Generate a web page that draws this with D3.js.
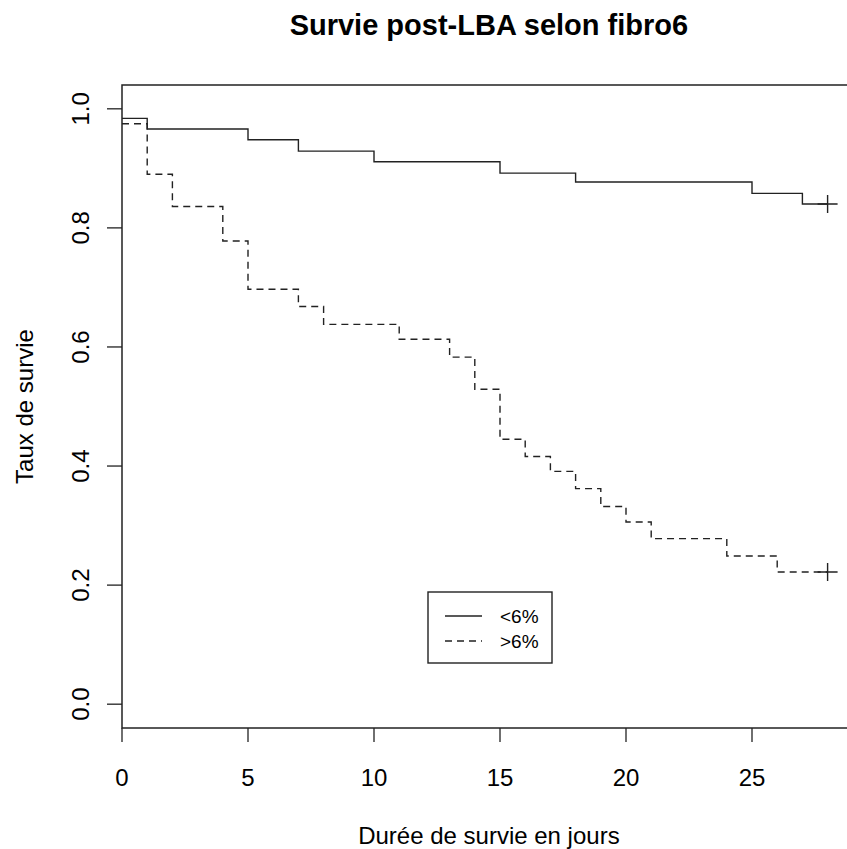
<!DOCTYPE html>
<html>
<head>
<meta charset="utf-8">
<script src="https://cdn.jsdelivr.net/npm/d3@7"></script>
<style>
  body { margin: 0; background: #fff; }
  text { font-family: "Liberation Sans", Arial, sans-serif; fill: #000; }
</style>
</head>
<body>
<div id="chart"></div>
<script>
// Kaplan-Meier steps
const groups = ["<6%", ">6%"];
const timesLow = [0, 1, 5, 7, 10, 15, 18, 25, 27];
const survLow = [0.984, 0.966, 0.948, 0.929, 0.911, 0.892, 0.877, 0.858, 0.840];
const timesHigh = [0, 1, 2, 4, 5, 7, 8, 11, 13, 14, 15, 16, 17, 18, 19, 20, 21, 24, 26];
const survHigh = [0.975, 0.890, 0.836, 0.778, 0.697, 0.668, 0.638, 0.613, 0.583, 0.529,
                  0.445, 0.416, 0.391, 0.362, 0.332, 0.306, 0.278, 0.249, 0.222];
const lastTime = 28; // censored at end of follow-up
const xTicks = [0, 5, 10, 15, 20, 25];
const yTicks = [0, 0.2, 0.4, 0.6, 0.8, 1.0];

const W = 847, H = 849;
const margin = { top: 85, left: 122, bottom: 120 };
const plotRight = 122 + 29.12 * 25.2; // runs past the window edge

const svg = d3.select("#chart").append("svg")
  .attr("width", W).attr("height", H);

const x = d3.scaleLinear().domain([0, 29.12]).range([margin.left, plotRight]);
const y = d3.scaleLinear().domain([-0.04, 1.04]).range([H - margin.bottom - 1, margin.top]);

// box
svg.append("rect")
  .attr("x", x.range()[0]).attr("y", y.range()[1])
  .attr("width", plotRight - margin.left).attr("height", y.range()[0] - y.range()[1])
  .attr("fill", "none").attr("stroke", "#222").attr("stroke-width", 1.5);

// x axis
const xAxis = svg.append("g").attr("transform", "translate(0," + y.range()[0] + ")");
xAxis.selectAll("line").data(xTicks).enter().append("line")
  .attr("x1", d => x(d)).attr("x2", d => x(d))
  .attr("y1", 0).attr("y2", 14)
  .attr("stroke", "#222").attr("stroke-width", 1.3);
xAxis.selectAll("text").data(xTicks).enter().append("text")
  .attr("x", d => x(d)).attr("y", 58)
  .attr("text-anchor", "middle").style("font-size", "24px")
  .text(d => d);

// y axis
const yAxis = svg.append("g").attr("transform", "translate(" + margin.left + ",0)");
yAxis.selectAll("line").data(yTicks).enter().append("line")
  .attr("x1", -15).attr("x2", 0)
  .attr("y1", d => y(d)).attr("y2", d => y(d))
  .attr("stroke", "#222").attr("stroke-width", 1.3);
yAxis.selectAll("text").data(yTicks).enter().append("text")
  .attr("transform", d => "translate(-33," + y(d) + ") rotate(-90)")
  .attr("text-anchor", "middle").style("font-size", "24px")
  .text(d => d3.format(".1f")(d));

// curves
function stepData(times, surv) {
  const pts = times.map((t, i) => ({ t: t, s: surv[i] }));
  pts.push({ t: lastTime, s: surv[surv.length - 1] });
  return pts;
}
const line = d3.line().x(d => x(d.t)).y(d => y(d.s)).curve(d3.curveStepAfter);
const series = [
  { name: groups[0], pts: stepData(timesLow, survLow), dash: null },
  { name: groups[1], pts: stepData(timesHigh, survHigh), dash: "7,5" }
];
svg.selectAll("path.km").data(series).enter().append("path")
  .attr("class", "km")
  .attr("d", d => line(d.pts))
  .attr("fill", "none").attr("stroke", "#222").attr("stroke-width", 1.4)
  .attr("stroke-dasharray", d => d.dash);

// censor marks
series.forEach(function (s) {
  const p = s.pts[s.pts.length - 1];
  const cx = x(p.t), cy = y(p.s);
  svg.append("path")
    .attr("d", "M" + (cx - 10) + "," + cy + "H" + (cx + 10) + "M" + cx + "," + (cy - 9) + "V" + (cy + 9))
    .attr("stroke", "#222").attr("stroke-width", 1.4).attr("fill", "none");
});

// title and labels
const midX = (margin.left + plotRight) / 2;
svg.append("text").attr("x", midX).attr("y", 35)
  .attr("text-anchor", "middle").style("font-size", "29px").style("font-weight", "bold")
  .text("Survie post-LBA selon fibro6");
svg.append("text").attr("x", midX).attr("y", 844)
  .attr("text-anchor", "middle").style("font-size", "24px")
  .text("Durée de survie en jours");
svg.append("text")
  .attr("transform", "translate(33," + ((y.range()[0] + y.range()[1]) / 2) + ") rotate(-90)")
  .attr("text-anchor", "middle").style("font-size", "24px")
  .text("Taux de survie");

// legend
const legend = svg.append("g").attr("transform", "translate(428,592)");
legend.append("rect").attr("width", 124).attr("height", 71)
  .attr("fill", "#fff").attr("stroke", "#222").attr("stroke-width", 1.4);
const rows = legend.selectAll("g.row").data(series).enter().append("g")
  .attr("class", "row")
  .attr("transform", (d, i) => "translate(0," + (24 + i * 25) + ")");
rows.append("line").attr("x1", 17).attr("x2", 54)
  .attr("stroke", "#222").attr("stroke-width", 1.4)
  .attr("stroke-dasharray", d => d.dash);
rows.append("text").attr("x", 72).attr("y", 7)
  .style("font-size", "19px")
  .text(d => d.name);
</script>
</body>
</html>
